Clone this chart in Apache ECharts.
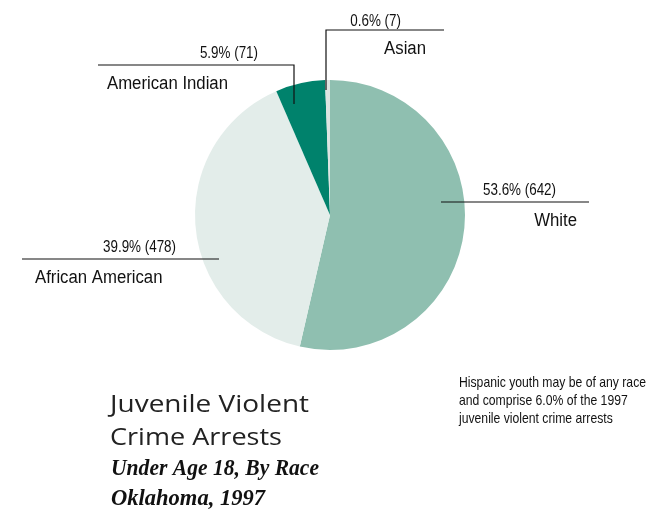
<!DOCTYPE html>
<html><head><meta charset="utf-8">
<script src="https://cdn.jsdelivr.net/npm/echarts@6/dist/echarts.min.js"></script>
<style>html,body{margin:0;padding:0;background:#fff}#c{width:660px;height:511px}</style>
</head><body><div id="c"></div>
<script>
const categories = ["White", "African American", "American Indian", "Asian"];
const percents = [53.6, 39.9, 5.9, 0.6];
const counts = [642, 478, 71, 7];
const colors = ["#8fbfb0", "#e3edea", "#00826c", "#dde4e1"];
const titleLines = ["Juvenile Violent", "Crime Arrests"];
const subtitleLines = ["Under Age 18, By Race", "Oklahoma, 1997"];
const noteLines = ["Hispanic youth may be of any race", "and comprise 6.0% of the 1997", "juvenile violent crime arrests"];

const SANS = '"Liberation Sans",Arial,sans-serif';
const PCT_FONT = '16px ' + SANS;
const NAME_FONT = '18px ' + SANS;
const NOTE_FONT = '15px ' + SANS;
const TITLE_FONT = '23px "Open Sans",sans-serif';
const SUB_FONT = 'italic bold 23px "Liberation Serif","DejaVu Serif",serif';

const mctx = document.createElement('canvas').getContext('2d');
function fitScale(font, text, target) { mctx.font = font; return target / mctx.measureText(text).width; }
const pctScale = fitScale(PCT_FONT, '53.6% (642)', 73);
const nameScale = fitScale(NAME_FONT, 'American Indian', 121);
const noteScale = fitScale(NOTE_FONT, noteLines[0], 187);
const titleWidths = [199, 172];
const subWidths = [208, 154];

// annotation layout: line points, pct text anchor, name text anchor
const ann = [
  {line: [[441,202],[589,202]], pct: [556,199,'right'], name: [577,230,'right']},
  {line: [[22,259],[219,259]], pct: [176,256,'right'], name: [35,287,'left']},
  {line: [[98,65],[294,65],[294,104]], pct: [258,62,'right'], name: [107,93,'left']},
  {line: [[326,90],[326,30],[444,30]], pct: [401,30,'right'], name: [426,58,'right']}
];

function txt(x, y, text, font, scale, align, fill) {
  return {type:'text', x:x, y:y, scaleX:scale, z:10,
    style:{text:text, font:font, fill:fill || '#111', textAlign:align || 'left', textVerticalAlign:'bottom'}};
}

const graphics = [];
categories.forEach((c, i) => {
  const a = ann[i];
  graphics.push({type:'polyline', shape:{points:a.line}, style:{stroke:'#111', lineWidth:1.2, fill:null}, z:10});
  graphics.push(txt(a.pct[0], a.pct[1], percents[i].toFixed(1) + '% (' + counts[i] + ')', PCT_FONT, pctScale, a.pct[2]));
  graphics.push(txt(a.name[0], a.name[1], c, NAME_FONT, nameScale, a.name[2]));
});
titleLines.forEach((t, i) => graphics.push(txt(110, 417 + i*33, t, TITLE_FONT, fitScale(TITLE_FONT, t, titleWidths[i]), 'left', '#222')));
subtitleLines.forEach((t, i) => graphics.push(txt(111, 481 + i*30, t, SUB_FONT, fitScale(SUB_FONT, t, subWidths[i]), 'left')));
noteLines.forEach((t, i) => graphics.push(txt(459, 390 + i*18, t, NOTE_FONT, noteScale, 'left')));

const chart = echarts.init(document.getElementById('c'), null, {renderer:'canvas'});
chart.setOption({
  animation: false,
  backgroundColor: '#fff',
  series: [{
    type: 'pie',
    center: [330, 215],
    radius: 135,
    startAngle: 90,
    clockwise: true,
    label: {show: false},
    labelLine: {show: false},
    emphasis: {disabled: true},
    itemStyle: {borderWidth: 0},
    data: categories.map((c, i) => ({name: c, value: counts[i], itemStyle: {color: colors[i]}}))
  }],
  graphic: graphics
});
</script></body></html>
